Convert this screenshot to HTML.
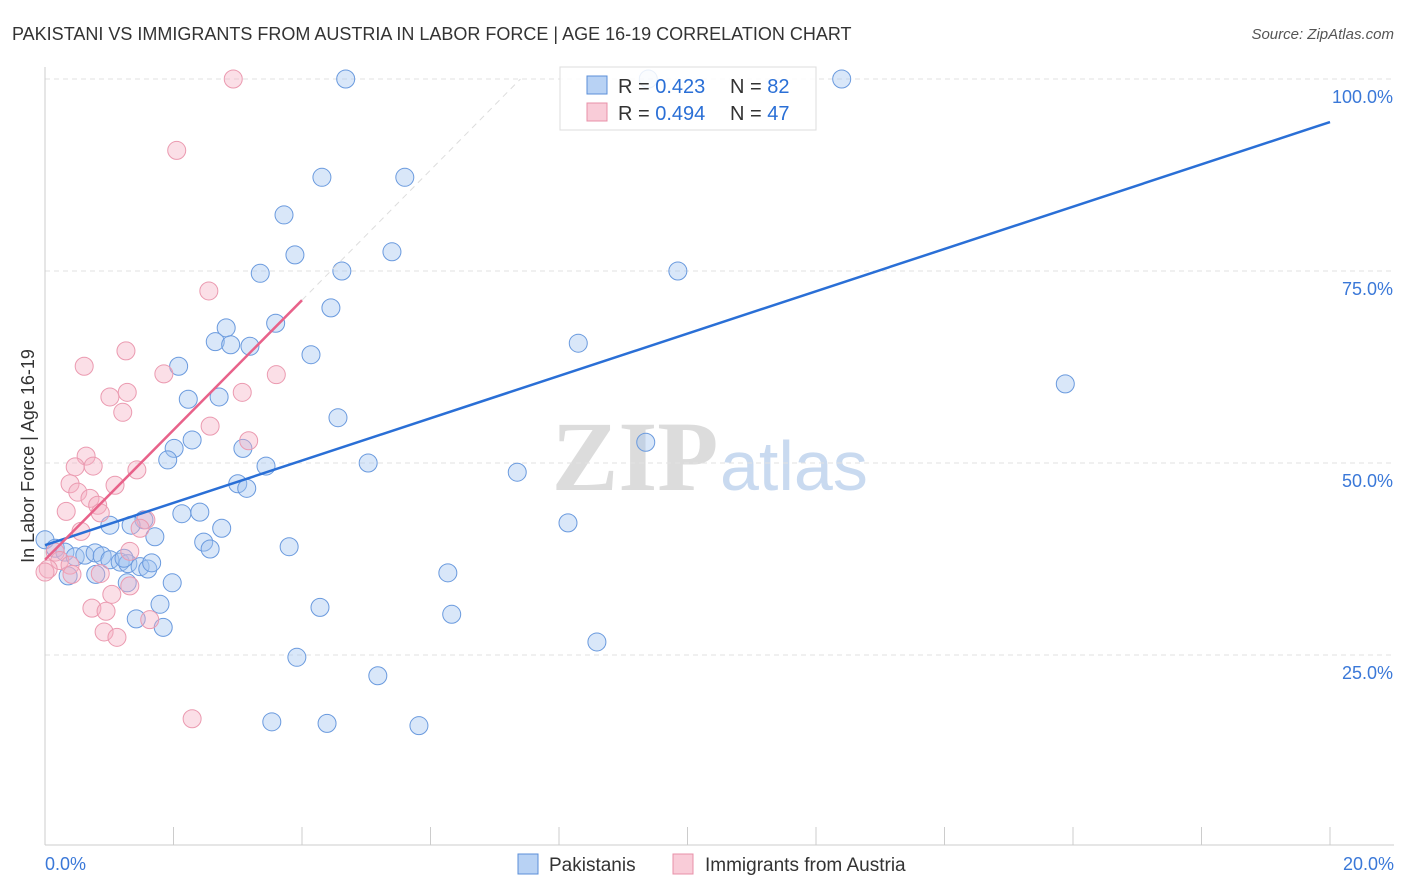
<!DOCTYPE html>
<html><head><meta charset="utf-8"><style>
body{margin:0;background:#fff;font-family:"Liberation Sans",sans-serif;}
#wrap{position:relative;width:1406px;height:892px;overflow:hidden;}
</style></head><body>
<div id="wrap">
<svg id="svg" width="1406" height="892" xmlns="http://www.w3.org/2000/svg">
<text x="12" y="40" font-size="18" fill="#333">PAKISTANI VS IMMIGRANTS FROM AUSTRIA IN LABOR FORCE | AGE 16-19 CORRELATION CHART</text>
<text x="1394" y="39" font-size="15" fill="#555" font-style="italic" text-anchor="end">Source: ZipAtlas.com</text>
<text x="635" y="490" font-size="100" fill="#dcdcdc" text-anchor="middle" font-family="Liberation Serif" font-weight="bold">ZIP</text>
<text x="720" y="490" font-size="70" fill="#c9daf0">atlas</text>
<g id="grid"></g>
<g id="axes"></g>
<g id="pts"></g>
<g id="lines"></g>
<text transform="translate(34,456) rotate(-90)" font-size="18" fill="#333" text-anchor="middle">In Labor Force | Age 16-19</text>
<g>
<rect x="560" y="67" width="256" height="63" fill="rgba(255,255,255,0.85)" stroke="#ddd"/>
<rect x="587" y="76" width="20" height="18" fill="#b8d2f4" stroke="#5b8fd8"/>
<text x="618" y="93" font-size="20" fill="#333">R = <tspan fill="#2a6fd6">0.423</tspan></text>
<text x="730" y="93" font-size="20" fill="#333">N = <tspan fill="#2a6fd6">82</tspan></text>
<rect x="587" y="103" width="20" height="18" fill="#f9ccd8" stroke="#e890a8"/>
<text x="618" y="120" font-size="20" fill="#333">R = <tspan fill="#2a6fd6">0.494</tspan></text>
<text x="730" y="120" font-size="20" fill="#333">N = <tspan fill="#2a6fd6">47</tspan></text>
</g>
<g>
<rect x="518" y="854" width="20" height="20" fill="#b8d2f4" stroke="#5b8fd8"/>
<text x="549" y="871" font-size="19" fill="#333">Pakistanis</text>
<rect x="673" y="854" width="20" height="20" fill="#f9ccd8" stroke="#e890a8"/>
<text x="705" y="871" font-size="19" fill="#333">Immigrants from Austria</text>
</g>
</svg>
</div>
<script>
const xTicks=[0,2,4,6,8,10,12,14,16,18,20];
const yTicks=[25,50,75,100];
const blueX=[4.68,12.40,9.39,4.31,5.60,3.72,3.89,5.40,3.35,4.62,9.85,4.45,3.59,2.82,2.65,2.89,3.19,8.30,4.14,2.08,15.88,2.23,2.71,4.56,2.29,2.01,3.08,1.91,9.35,5.03,3.44,7.35,3.00,3.14,2.13,2.41,1.54,1.01,1.34,2.75,8.14,1.71,2.47,2.57,3.80,0.0,0.16,0.31,0.47,0.62,0.78,0.89,1.01,1.17,1.29,1.48,1.60,1.66,1.23,0.79,0.36,1.28,1.98,6.27,1.79,4.28,6.33,1.42,1.84,8.59,3.92,5.18,3.53,4.39,5.82];
const blueY=[100,100,100,87.2,87.2,82.3,77.1,77.5,74.7,75.0,75.0,70.2,68.2,67.6,65.8,65.4,65.2,65.6,64.1,62.6,60.3,58.3,58.6,55.9,53.0,51.9,51.9,50.4,52.7,50.0,49.6,48.8,47.3,46.7,43.4,43.6,42.6,41.9,41.9,41.5,42.2,40.4,39.7,38.8,39.1,40.0,38.9,38.4,37.8,38.0,38.3,37.9,37.4,37.1,36.9,36.5,36.2,37.0,37.6,35.5,35.3,34.4,34.4,35.7,31.6,31.2,30.3,29.7,28.6,26.7,24.7,22.3,16.3,16.1,15.8];
const pinkX=[2.93,2.05,2.55,0.61,1.26,1.01,1.28,1.21,1.85,3.60,3.07,2.57,3.17,0.64,0.47,0.75,1.43,0.39,0.51,1.09,0.70,0.82,0.86,0.33,1.57,1.48,0.56,1.32,0.16,0.23,0.39,0.05,0.42,0.86,1.32,1.04,0.73,0.95,1.63,0.92,1.12,2.29,0.0];
const pinkY=[100,90.7,72.4,62.6,64.6,58.6,59.2,56.6,61.6,61.5,59.2,54.8,52.9,50.9,49.5,49.6,49.1,47.3,46.2,47.1,45.4,44.5,43.5,43.7,42.6,41.5,41.1,38.5,38.4,37.3,36.7,36.2,35.5,35.6,34.0,32.9,31.1,30.7,29.6,28.0,27.3,16.7,35.8];
const blueLine=[[0,39.3],[20,94.4]];
const pinkLine=[[0,37.4],[4,71.2]];
const pinkDash=[[4,71.2],[7.4,100]];
const X=v=>45+v*64.25, Y=v=>847-v*7.68;
const NS="http://www.w3.org/2000/svg";
function mk(p,t,a){const e=document.createElementNS(NS,t);for(const k in a)e.setAttribute(k,a[k]);p.appendChild(e);return e;}
const grid=document.getElementById('grid'),axes=document.getElementById('axes'),pts=document.getElementById('pts'),lines=document.getElementById('lines');
yTicks.forEach(t=>{
 const l=mk(grid,'line',{x1:45,x2:1394,y1:Y(t),y2:Y(t),stroke:'#e2e2e2','stroke-dasharray':'5,4'});
 
 
 const tx=mk(grid,'text',{x:1393,y:Y(t)+24,'font-size':18,fill:'#3a78d8','text-anchor':'end'});
 tx.textContent=t.toFixed(1)+'%';
 
 
});
mk(axes,'line',{x1:45,x2:45,y1:67,y2:845,stroke:'#ccc'});
mk(axes,'line',{x1:45,x2:1394,y1:845,y2:845,stroke:'#ccc'});
xTicks.forEach(t=>{
 const l=mk(axes,'line',{x1:X(t),x2:X(t),y1:827,y2:845,stroke:'#ccc'});
 
 
});
[[0,'0.0%','start',45],[20,'20.0%','end',1394]].forEach(d=>{
 const tx=mk(axes,'text',{x:d[3],y:870,'font-size':18,fill:'#3a78d8','text-anchor':d[2]});
 tx.textContent=d[1];
 
 
});
blueX.forEach((v,i)=>{
 const c=mk(pts,'circle',{cx:X(v),cy:Y(blueY[i]),r:9,fill:'rgba(160,196,240,0.4)',stroke:'#6a9ade','stroke-width':1});
 
 
});
pinkX.forEach((v,i)=>{
 const c=mk(pts,'circle',{cx:X(v),cy:Y(pinkY[i]),r:9,fill:'rgba(244,175,195,0.4)',stroke:'#eb9ab0','stroke-width':1});
 
 
});
const b=mk(lines,'line',{x1:X(blueLine[0][0]),y1:Y(blueLine[0][1]),x2:X(blueLine[1][0]),y2:Y(blueLine[1][1]),stroke:'#2a6fd6','stroke-width':2.5});


const p=mk(lines,'line',{x1:X(pinkLine[0][0]),y1:Y(pinkLine[0][1]),x2:X(pinkLine[1][0]),y2:Y(pinkLine[1][1]),stroke:'#e8628a','stroke-width':2.5});


const pd=mk(lines,'line',{x1:X(pinkDash[0][0]),y1:Y(pinkDash[0][1]),x2:X(pinkDash[1][0]),y2:Y(pinkDash[1][1]),stroke:'#ddd','stroke-width':1,'stroke-dasharray':'6,5'});


</script>
</body></html>
